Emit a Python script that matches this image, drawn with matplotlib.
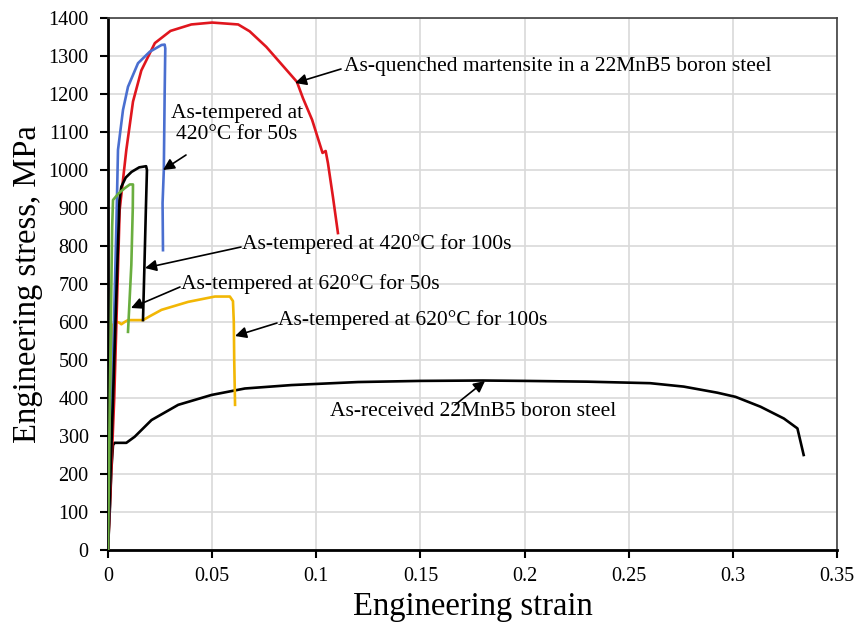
import matplotlib
matplotlib.use("Agg")
import matplotlib.pyplot as plt

plt.rcParams['font.family'] = ['Liberation Serif', 'DejaVu Serif']

# As-quenched martensite
red_x = [0, 0.003, 0.0056, 0.0088, 0.012, 0.016, 0.0225, 0.03, 0.04, 0.05, 0.0625, 0.068, 0.076,
         0.0907, 0.0936, 0.098, 0.103, 0.1045, 0.1056, 0.108, 0.1104]
red_y = [0, 400, 895, 1053, 1180, 1262, 1334, 1366, 1383, 1388, 1383, 1365, 1324,
         1232, 1189, 1132, 1045, 1050, 1018, 929, 834]

# As-tempered 420C 50s
blue_x = [0, 0.002, 0.004, 0.0048, 0.0072, 0.0096, 0.0144, 0.02, 0.0257, 0.0272, 0.0275, 0.0272,
          0.0268, 0.0262, 0.0264]
blue_y = [0, 400, 850, 1053, 1158, 1219, 1281, 1311, 1329, 1330, 1320, 1200,
          1000, 913, 789]

# As-tempered 420C 100s
black_x = [0, 0.003, 0.0055, 0.0064, 0.0085, 0.0113, 0.015, 0.0183, 0.0187, 0.0182, 0.0175, 0.0168]
black_y = [0, 500, 920, 956, 980, 995, 1007, 1010, 1000, 900, 750, 605]

# As-tempered 620C 50s
green_x = [0, 0.001, 0.002, 0.0024, 0.005, 0.008, 0.0105, 0.012, 0.0119, 0.0112, 0.0096]
green_y = [0, 450, 850, 921, 938, 952, 962, 962, 900, 750, 574]

# As-tempered 620C 100s
yellow_x = [0, 0.0012, 0.0018, 0.004, 0.0055, 0.0064, 0.008, 0.0096, 0.0168, 0.02, 0.0257, 0.0385,
            0.0513, 0.0585, 0.06, 0.0604, 0.0606, 0.061]
yellow_y = [0, 300, 590, 601, 598, 594, 600, 605, 605, 615, 632, 653,
            667, 667, 655, 600, 500, 382]

# As-received
recv_x = [0, 0.001, 0.0016, 0.0024, 0.0032, 0.0088, 0.0128, 0.0209, 0.0337, 0.0497, 0.0657, 0.088,
          0.1, 0.12, 0.15, 0.18, 0.2, 0.23, 0.2603, 0.2764, 0.2925, 0.3013, 0.3133, 0.3245, 0.331, 0.334]
recv_y = [0, 120, 210, 276, 282, 282, 298, 342, 382, 408, 425, 434,
          437, 442, 445, 446, 445, 443, 439, 430, 414, 403, 377, 346, 320, 250]

x_ticks = [0, 0.05, 0.1, 0.15, 0.2, 0.25, 0.3, 0.35]
x_ticklabels = ['0', '0.05', '0.1', '0.15', '0.2', '0.25', '0.3', '0.35']
y_ticks = list(range(0, 1401, 100))

fig = plt.figure(figsize=(8.59, 6.24), dpi=100)
ax = fig.add_axes([108/859, 1-550/624, (837-108)/859, (550-18)/624])

lw = 1.9
ax.plot(recv_x, recv_y, color='black', lw=lw, zorder=3)
ax.plot(yellow_x, yellow_y, color='#F2B705', lw=lw, zorder=3)
ax.plot(red_x, red_y, color='#E0161E', lw=lw, zorder=3)
ax.plot(blue_x, blue_y, color='#4A6FD0', lw=lw, zorder=3)
ax.plot(black_x, black_y, color='black', lw=lw, zorder=4)
ax.plot(green_x, green_y, color='#6AAE3F', lw=lw, zorder=5)

ax.set_xlim(0, 0.35)
ax.set_ylim(0, 1400)
ax.set_xticks(x_ticks)
ax.set_xticklabels(x_ticklabels)
ax.set_yticks(y_ticks)
ax.grid(True, color='#d9d9d9', lw=1.2, zorder=0)
ax.set_axisbelow(True)

for s in ['left', 'bottom']:
    ax.spines[s].set_color('black')
    ax.spines[s].set_linewidth(2.0)
for s in ['top', 'right']:
    ax.spines[s].set_color('#404040')
    ax.spines[s].set_linewidth(1.2)

ax.tick_params(axis='both', direction='out', length=6, width=1.5, labelsize=14.5)
ax.tick_params(axis='x', pad=6)
ax.tick_params(axis='y', pad=8)

ax.set_xlabel('Engineering strain', fontsize=23.5, labelpad=4)
ax.set_ylabel('Engineering stress, MPa', fontsize=23.5, labelpad=4)

def px2data(px, py):
    return ((px - 108) / (837 - 108) * 0.35, (550 - py) / (550 - 18) * 1400)

arrowprops = dict(arrowstyle='-|>', color='black', lw=1.2, mutation_scale=17, shrinkA=0, shrinkB=0)
fs = 15.5

ann = [
    ('As-quenched martensite in a 22MnB5 boron steel', (344, 66), (295, 83), (341, 69)),
    ('As-tempered at 420°C for 100s', (242, 244), (145, 268), (241, 247)),
    ('As-tempered at 620°C for 50s', (181, 284), (131, 308), (180, 287)),
    ('As-tempered at 620°C for 100s', (278, 320), (235, 336), (277, 323)),
]
for txt, tpos, head, tail in ann:
    ax.text(*px2data(*tpos), txt, fontsize=fs, ha='left', va='center', zorder=6)
    ax.annotate('', xy=px2data(*head), xytext=px2data(*tail), arrowprops=arrowprops, zorder=6)

ax.text(*px2data(237, 124), 'As-tempered at\n420°C for 50s', fontsize=fs, ha='center', va='center',
        linespacing=1.1, zorder=6)
ax.annotate('', xy=px2data(163, 170), xytext=px2data(186, 155), arrowprops=arrowprops, zorder=6)

ax.text(*px2data(473, 412), 'As-received 22MnB5 boron steel', fontsize=fs, ha='center', va='center', zorder=6)
ax.annotate('', xy=px2data(485, 381), xytext=px2data(455, 405), arrowprops=arrowprops, zorder=6)

fig.savefig('out.png', dpi=100)
